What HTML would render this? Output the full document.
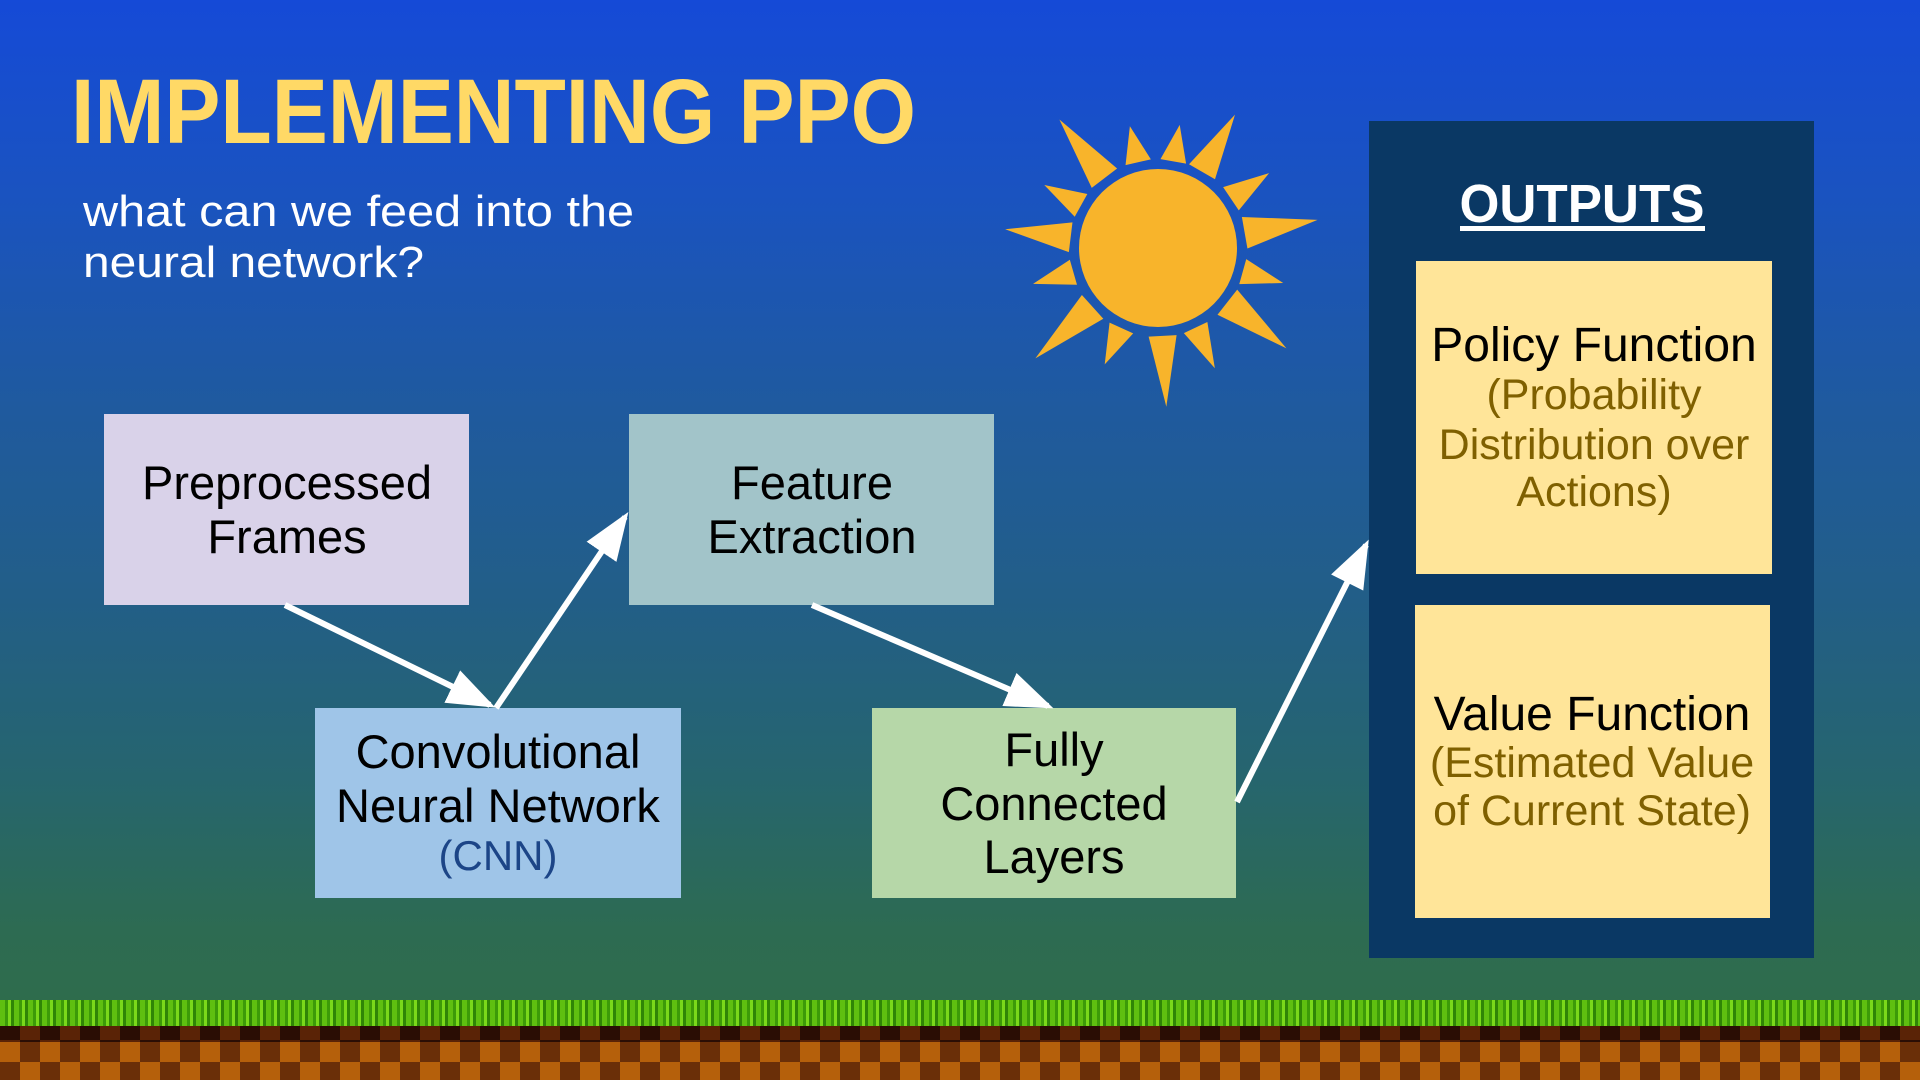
<!DOCTYPE html>
<html><head><meta charset="utf-8"><style>
html,body{margin:0;padding:0;}
body{width:1920px;height:1080px;overflow:hidden;position:relative;
background:linear-gradient(180deg,#154ad7 0%,#1a53c0 18%,#1f5a9e 38%,#225e88 55%,#26656e 72%,#2d6b52 86%,#306d46 100%);}
svg{position:absolute;left:0;top:0;}
.grass{position:absolute;left:0;top:1000px;width:1920px;height:26px;
background:repeating-linear-gradient(90deg,#5fbf10 0 5px,#3c9a08 5px 8px,#7ad81a 8px 11px,#2f8506 11px 14px);}
.dirt{position:absolute;left:0;top:1022px;width:1920px;height:58px;
background:repeating-conic-gradient(#b5600b 0 25%,#6a2f08 0 50%) 0 0/40px 40px;}
.dirttop{position:absolute;left:0;top:1020px;width:1920px;height:22px;
background:repeating-conic-gradient(#5a2306 0 25%,#2a0d04 0 50%) 0 0/40px 40px;}
</style></head><body>
<div class="dirt"></div>
<div class="dirttop"></div>
<div class="grass"></div>
<svg width="1920" height="1080" viewBox="0 0 1920 1080" font-family="Liberation Sans, sans-serif">
<defs>
<marker id="ah" markerWidth="8" markerHeight="6" refX="7" refY="3" orient="auto" markerUnits="strokeWidth">
<path d="M0,0 L8,3 L0,6 Z" fill="#fff"/></marker>
</defs>
<text x="71" y="143" font-size="92" font-weight="bold" fill="#ffd966" textLength="845" lengthAdjust="spacingAndGlyphs">IMPLEMENTING PPO</text>
<text x="83" y="226" font-size="44" fill="#fff" textLength="551" lengthAdjust="spacingAndGlyphs">what can we feed into the</text>
<text x="83" y="277" font-size="44" fill="#fff" textLength="341" lengthAdjust="spacingAndGlyphs">neural network?</text>
<g transform="translate(1158,248)" fill="#f8b42b">
<circle r="79"/>
<path transform="rotate(-127.5)" d="M88,-16 L162,0 L88,16Z"/>
<path transform="rotate(-103)" d="M88,-13 L125,0 L88,13Z"/>
<path transform="rotate(-80)" d="M88,-13 L125,0 L88,13Z"/>
<path transform="rotate(-60)" d="M88,-15 L154,0 L88,15Z"/>
<path transform="rotate(-34)" d="M88,-14 L134,0 L88,14Z"/>
<path transform="rotate(-10)" d="M88,-16 L162,0 L88,16Z"/>
<path transform="rotate(15.6)" d="M88,-13 L130,0 L88,13Z"/>
<path transform="rotate(38)" d="M88,-16 L163,0 L88,16Z"/>
<path transform="rotate(64.7)" d="M88,-13 L133,0 L88,13Z"/>
<path transform="rotate(87)" d="M88,-14 L159,0 L88,14Z"/>
<path transform="rotate(114.6)" d="M88,-13 L128,0 L88,13Z"/>
<path transform="rotate(138)" d="M88,-16 L165,0 L88,16Z"/>
<path transform="rotate(164)" d="M88,-13 L130,0 L88,13Z"/>
<path transform="rotate(-173)" d="M88,-15 L154,0 L88,15Z"/>
<path transform="rotate(-151)" d="M88,-13 L130,0 L88,13Z"/>
</g>
<rect x="104" y="414" width="365" height="191" fill="#d9d2e9"/>
<rect x="629" y="414" width="365" height="191" fill="#a2c4c9"/>
<rect x="315" y="708" width="366" height="190" fill="#9fc5e8"/>
<rect x="872" y="708" width="364" height="190" fill="#b6d7a8"/>
<g font-size="47" fill="#000" text-anchor="middle">
<text x="287" y="499">Preprocessed</text><text x="287" y="553">Frames</text>
<text x="812" y="499">Feature</text><text x="812" y="553">Extraction</text>
<text x="498" y="768">Convolutional</text><text x="498" y="822">Neural Network</text>
<text x="498" y="870" font-size="42" fill="#1c4587">(CNN)</text>
<text x="1054" y="766">Fully</text><text x="1054" y="820">Connected</text><text x="1054" y="873">Layers</text>
</g>
<rect x="1369" y="121" width="445" height="837" fill="#0a3864"/>
<text x="1582" y="222" font-size="54" font-weight="bold" fill="#fff" text-anchor="middle" textLength="245" lengthAdjust="spacingAndGlyphs">OUTPUTS</text>
<rect x="1460" y="226" width="245" height="5" fill="#fff"/>
<rect x="1416" y="261" width="356" height="313" fill="#ffe599"/>
<rect x="1415" y="605" width="355" height="313" fill="#ffe599"/>
<g font-size="48" text-anchor="middle">
<text x="1594" y="361" fill="#000">Policy Function</text>
<text x="1594" y="409" font-size="43" fill="#7f6000">(Probability</text>
<text x="1594" y="459" font-size="43" fill="#7f6000">Distribution over</text>
<text x="1594" y="506" font-size="43" fill="#7f6000">Actions)</text>
<text x="1592" y="730" fill="#000">Value Function</text>
<text x="1592" y="777" font-size="43" fill="#7f6000">(Estimated Value</text>
<text x="1592" y="825" font-size="43" fill="#7f6000">of Current State)</text>
</g>
<g stroke="#fff" stroke-width="6" fill="none" marker-end="url(#ah)">
<line x1="285" y1="605" x2="490" y2="705"/>
<line x1="496" y1="708" x2="625" y2="517"/>
<line x1="812" y1="605" x2="1048" y2="706"/>
<line x1="1237" y1="802" x2="1366" y2="545"/>
</g>
</svg>
</body></html>
